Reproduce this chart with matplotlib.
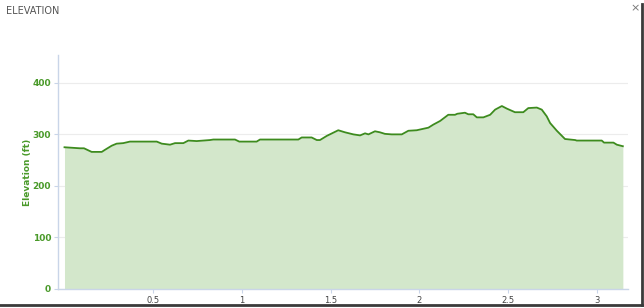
import matplotlib
matplotlib.use("Agg")
import matplotlib.pyplot as plt
from matplotlib.lines import Line2D

# Distance (miles) and elevation (ft)
distance = [0.0, 0.087, 0.110, 0.153, 0.210, 0.228, 0.266, 0.294, 0.331, 0.369,
            0.520, 0.548, 0.595, 0.623, 0.670, 0.698, 0.745, 0.820, 0.839, 0.961,
            0.985, 1.083, 1.102, 1.318, 1.337, 1.393, 1.422, 1.440, 1.478, 1.543,
            1.581, 1.628, 1.666, 1.694, 1.713, 1.750, 1.778, 1.806, 1.844, 1.901,
            1.938, 1.985, 2.051, 2.079, 2.117, 2.163, 2.201, 2.214, 2.257, 2.276,
            2.304, 2.324, 2.361, 2.399, 2.427, 2.465, 2.493, 2.539, 2.586, 2.614,
            2.662, 2.690, 2.718, 2.737, 2.775, 2.821, 2.878, 2.887, 3.028, 3.041,
            3.094, 3.113, 3.147]
elevation = [275, 273, 273, 266, 266, 270, 278, 282, 283, 286,
             286, 282, 280, 283, 283, 288, 287, 289, 290, 290,
             286, 286, 290, 290, 294, 294, 289, 289, 297, 308,
             304, 300, 298, 302, 300, 306, 304, 301, 300, 300,
             307, 308, 313, 319, 326, 338, 338, 340, 342, 339,
             339, 333, 333, 338, 348, 355, 350, 343, 343, 351,
             352, 348, 335, 322, 307, 291, 289, 288, 288, 284,
             284, 280, 277]

x_ticks = [0.5, 1, 1.5, 2, 2.5, 3]
x_tick_labels = ["0.5", "1", "1.5", "2", "2.5", "3"]
y_ticks = [0, 100, 200, 300, 400]
y_tick_labels = ["0", "100", "200", "300", "400"]

W, H = 644, 308
fig = plt.figure(figsize=(W / 100, H / 100), dpi=100)
fig.patch.set_facecolor("white")

ax = fig.add_axes([58 / W, (H - 289) / H, (628 - 58) / W, (289 - 55) / H])

line_col = "#3d8b1e"
fill_col = "#d3e7cb"
label_col = "#4a9a2a"
axis_col = "#c9d5e8"

ax.fill_between(distance, elevation, 0, color=fill_col, lw=0, zorder=1)
ax.plot(distance, elevation, color=line_col, lw=1.3, zorder=3, solid_joinstyle="round")

ax.set_xlim(-0.0366, 3.176)
ax.set_ylim(0, 454)

ax.set_xticks(x_ticks)
ax.set_xticklabels(x_tick_labels)
ax.set_yticks(y_ticks)
ax.set_yticklabels(y_tick_labels)

for t in ax.get_xticklabels():
    t.set_color("#444444")
    t.set_fontsize(6)
for t in ax.get_yticklabels():
    t.set_color(label_col)
    t.set_fontsize(6.5)
    t.set_fontweight("bold")

ax.tick_params(axis="x", length=3, width=0.8, color=axis_col, pad=2)
ax.tick_params(axis="y", length=3, width=0.8, color=axis_col, pad=2)

ax.grid(axis="y", color="#ececec", lw=0.8, zorder=0)
ax.set_axisbelow(True)

for s in ["top", "right"]:
    ax.spines[s].set_visible(False)
for s in ["left", "bottom"]:
    ax.spines[s].set_color(axis_col)
    ax.spines[s].set_linewidth(1.0)

ax.set_ylabel("Elevation (ft)", color=label_col, fontsize=6.5, fontweight="bold", labelpad=0.5)
ax.set_facecolor("white")

fig.text(6 / W, 1 - 11 / H, "ELEVATION", fontsize=7, color="#555555",
         ha="left", va="center")
fig.text(635 / W, 1 - 8 / H, "×", fontsize=8, color="#777777", ha="center", va="center")

# window border/shadow on right and bottom edges
fig.add_artist(Line2D([641.5 / W, 641.5 / W], [1 - 4 / H, 1 - 305 / H],
                      transform=fig.transFigure, color="#3a3a3a", lw=2))
fig.add_artist(Line2D([0, 642 / W], [1 - 304.5 / H, 1 - 304.5 / H],
                      transform=fig.transFigure, color="#3a3a3a", lw=2))

fig.savefig("out.png", dpi=100, facecolor="white")
